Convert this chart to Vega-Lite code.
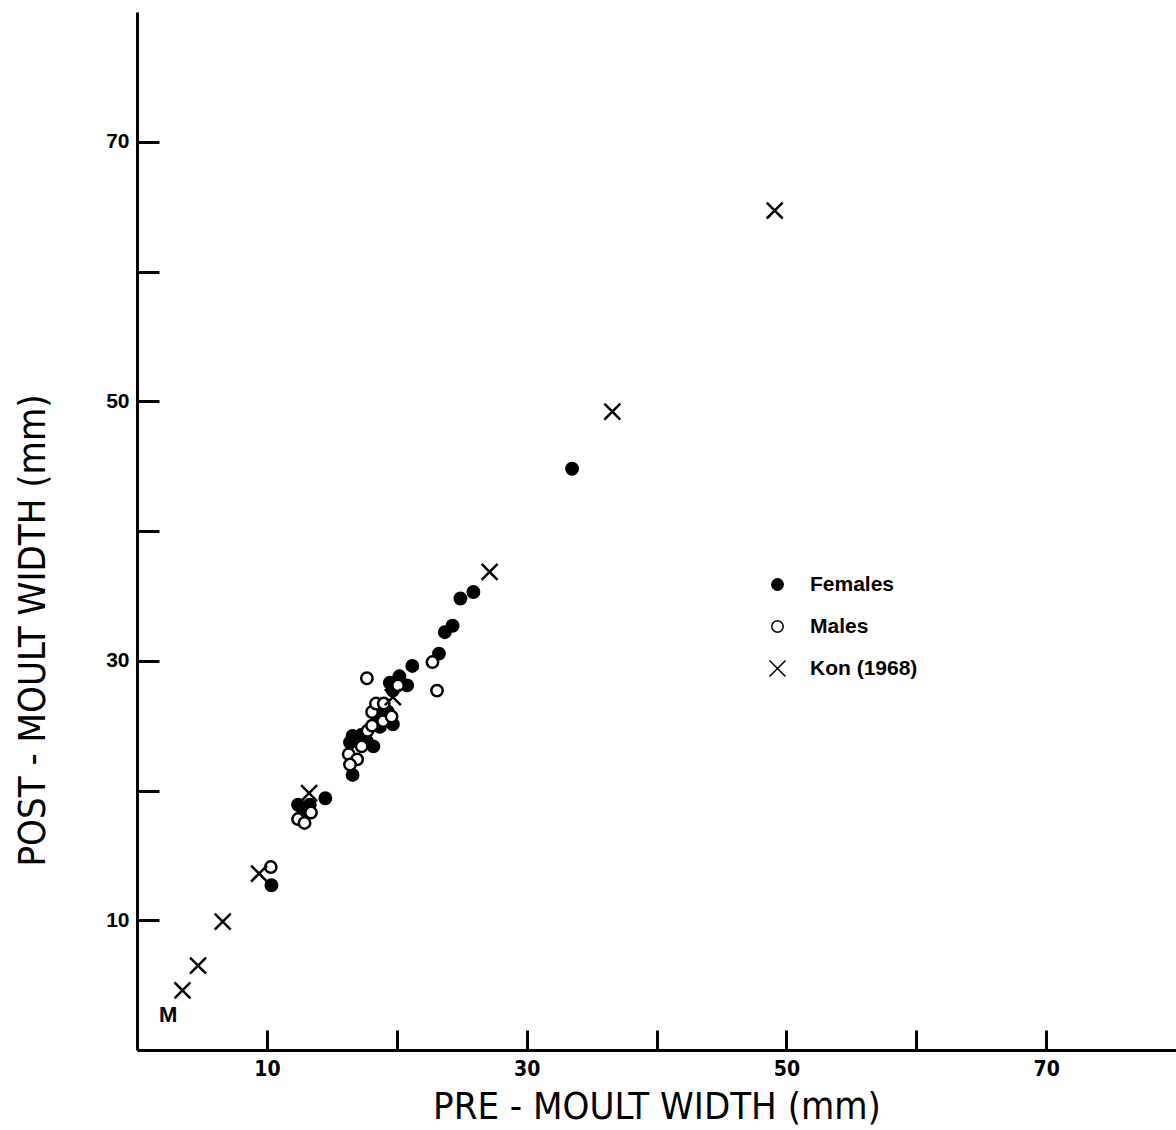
{
  "$schema": "https://vega.github.io/schema/vega-lite/v6.json",
  "width": 1039,
  "height": 1038,
  "autosize": {"type": "none"},
  "padding": {"left": 137, "top": 12, "right": 0, "bottom": 80},
  "background": "white",
  "config": {"view": {"stroke": null}, "font": "Liberation Sans"},
  "layer": [
    {
      "data": {"values": [
        {"group": "Females", "pre": 10.35, "post": 12.7},
        {"group": "Females", "pre": 12.4, "post": 18.9},
        {"group": "Females", "pre": 13.3, "post": 18.9},
        {"group": "Females", "pre": 12.8, "post": 18.3},
        {"group": "Females", "pre": 14.5, "post": 19.4},
        {"group": "Females", "pre": 16.6, "post": 21.2},
        {"group": "Females", "pre": 16.4, "post": 23.7},
        {"group": "Females", "pre": 16.6, "post": 24.2},
        {"group": "Females", "pre": 17.3, "post": 24.3},
        {"group": "Females", "pre": 17.7, "post": 23.8},
        {"group": "Females", "pre": 18.2, "post": 23.4},
        {"group": "Females", "pre": 18.5, "post": 25.9},
        {"group": "Females", "pre": 19.3, "post": 26.1},
        {"group": "Females", "pre": 19.7, "post": 25.1},
        {"group": "Females", "pre": 18.7, "post": 24.9},
        {"group": "Females", "pre": 19.46, "post": 28.3},
        {"group": "Females", "pre": 20.2, "post": 28.8},
        {"group": "Females", "pre": 20.8, "post": 28.1},
        {"group": "Females", "pre": 19.7, "post": 27.7},
        {"group": "Females", "pre": 21.2, "post": 29.6},
        {"group": "Females", "pre": 23.25, "post": 30.55},
        {"group": "Females", "pre": 23.7, "post": 32.2},
        {"group": "Females", "pre": 24.3, "post": 32.7},
        {"group": "Females", "pre": 24.9, "post": 34.8},
        {"group": "Females", "pre": 25.9, "post": 35.3},
        {"group": "Females", "pre": 33.5, "post": 44.8},
        {"group": "Males", "pre": 10.3, "post": 14.1},
        {"group": "Males", "pre": 12.4, "post": 17.8},
        {"group": "Males", "pre": 12.9, "post": 17.5},
        {"group": "Males", "pre": 13.4, "post": 18.3},
        {"group": "Males", "pre": 16.3, "post": 22.8},
        {"group": "Males", "pre": 16.95, "post": 22.4},
        {"group": "Males", "pre": 16.4, "post": 22.0},
        {"group": "Males", "pre": 17.3, "post": 23.4},
        {"group": "Males", "pre": 17.75, "post": 24.6},
        {"group": "Males", "pre": 18.1, "post": 25.0},
        {"group": "Males", "pre": 18.95, "post": 25.35},
        {"group": "Males", "pre": 19.6, "post": 25.7},
        {"group": "Males", "pre": 18.1, "post": 26.05},
        {"group": "Males", "pre": 18.4, "post": 26.7},
        {"group": "Males", "pre": 19.0, "post": 26.7},
        {"group": "Males", "pre": 17.7, "post": 28.65},
        {"group": "Males", "pre": 20.1, "post": 28.1},
        {"group": "Males", "pre": 22.75, "post": 29.9},
        {"group": "Males", "pre": 23.1, "post": 27.7},
        {"group": "Kon (1968)", "pre": 3.5, "post": 4.6},
        {"group": "Kon (1968)", "pre": 4.7, "post": 6.5},
        {"group": "Kon (1968)", "pre": 6.6, "post": 9.9},
        {"group": "Kon (1968)", "pre": 9.4, "post": 13.6},
        {"group": "Kon (1968)", "pre": 13.25, "post": 19.8},
        {"group": "Kon (1968)", "pre": 19.7, "post": 27.2},
        {"group": "Kon (1968)", "pre": 27.15, "post": 36.85},
        {"group": "Kon (1968)", "pre": 36.6, "post": 49.2},
        {"group": "Kon (1968)", "pre": 49.1, "post": 64.7}
      ]},
      "mark": {"type": "point", "stroke": "black", "strokeWidth": 2.5, "opacity": 1, "size": 130},
      "encoding": {
        "x": {
          "field": "pre", "type": "quantitative",
          "scale": {"domain": [0, 80], "nice": false, "zero": false},
          "axis": {
            "values": [10, 20, 30, 40, 50, 60, 70],
            "labelExpr": "datum.value % 20 == 10 ? datum.label : ''",
            "grid": false, "tickSize": -20, "tickWidth": 3, "tickColor": "black",
            "domainWidth": 3, "domainColor": "black",
            "labelFontSize": 21, "labelFontWeight": "bold", "labelColor": "black", "labelPadding": 28,
            "labelFont": "DejaVu Sans Condensed",
            "title": "PRE - MOULT WIDTH (mm)", "titleFontSize": 38, "titleFont": "DejaVu Sans Condensed",
            "titleFontWeight": "normal",
            "titleColor": "black", "titleY": 68, "titleBaseline": "alphabetic"
          }
        },
        "y": {
          "field": "post", "type": "quantitative",
          "scale": {"domain": [0, 80], "nice": false, "zero": false},
          "axis": {
            "values": [10, 20, 30, 40, 50, 60, 70],
            "labelExpr": "datum.value % 20 == 10 ? datum.label : ''",
            "grid": false, "tickSize": -22, "tickWidth": 3, "tickColor": "black",
            "domainWidth": 3, "domainColor": "black",
            "labelFontSize": 21, "labelFontWeight": "bold", "labelColor": "black", "labelPadding": 30,
            "title": "POST - MOULT WIDTH (mm)", "titleFontSize": 38, "titleFont": "DejaVu Sans Condensed",
            "titleFontWeight": "normal",
            "titleColor": "black", "titleX": -104, "titleY": 618, "titleBaseline": "middle"
          }
        },
        "fill": {
          "field": "group", "type": "nominal",
          "scale": {"domain": ["Females", "Males", "Kon (1968)"], "range": ["black", "white", "transparent"]},
          "legend": {
            "title": null, "orient": "none", "legendX": 630, "legendY": 562,
            "labelFontSize": 21, "labelFontWeight": "bold", "labelColor": "black",
            "rowPadding": 20, "labelOffset": 22, "symbolSize": 130,
            "encode": {"symbols": {"update": {"stroke": {"value": "black"}, "strokeWidth": {"value": 2.5}}}}
          }
        },
        "shape": {
          "field": "group", "type": "nominal",
          "scale": {"domain": ["Females", "Males", "Kon (1968)"], "range": ["circle", "circle", "M-1.4,-1.4L1.4,1.4M1.4,-1.4L-1.4,1.4"]},
          "legend": {
            "title": null, "orient": "none", "legendX": 630, "legendY": 562,
            "labelFontSize": 21, "labelFontWeight": "bold", "labelColor": "black",
            "rowPadding": 20, "labelOffset": 22, "symbolSize": 130,
            "encode": {"symbols": {"update": {"stroke": {"value": "black"}, "strokeWidth": {"value": 2.5}}}}
          }
        }
      }
    },
    {
      "data": {"values": [{"pre": 2.4, "post": 2.7, "label": "M"}]},
      "mark": {"type": "text", "fontSize": 22, "fontWeight": "bold", "color": "black"},
      "encoding": {
        "x": {"field": "pre", "type": "quantitative"},
        "y": {"field": "post", "type": "quantitative"},
        "text": {"field": "label"}
      }
    }
  ]
}
